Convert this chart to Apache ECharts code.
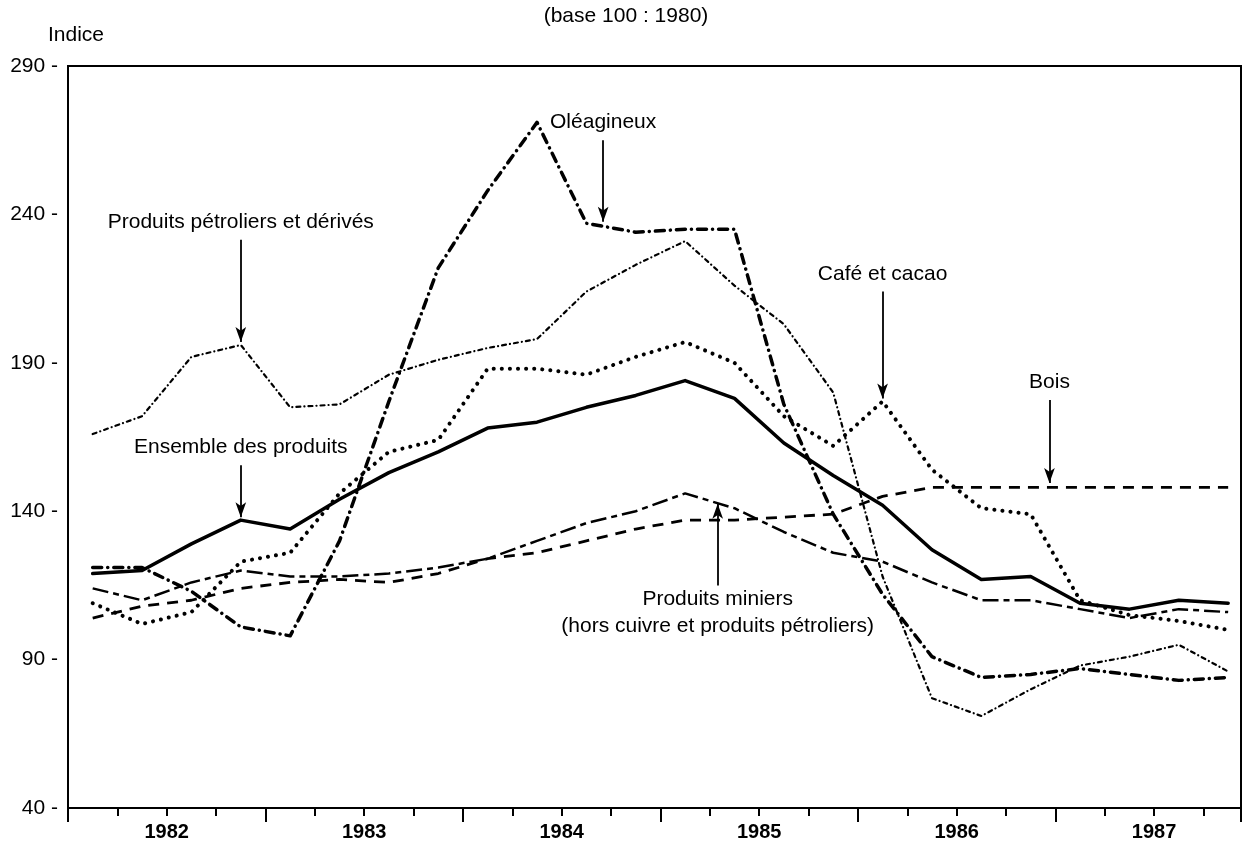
<!DOCTYPE html>
<html>
<head>
<meta charset="utf-8">
<title>Indices des prix des produits (base 100 : 1980)</title>
<script src="https://cdn.jsdelivr.net/npm/echarts@6/dist/echarts.min.js"></script>
<style>
    html, body { margin: 0; padding: 0; background: #fff; }
    #main { width: 1252px; height: 849px; }
</style>
</head>
<body>
<div id="main"></div>
<script>
// trimestres (milieu de trimestre, en annees decimales)
const trimestres = [1982.125, 1982.375, 1982.625, 1982.875, 1983.125, 1983.375, 1983.625, 1983.875,
    1984.125, 1984.375, 1984.625, 1984.875, 1985.125, 1985.375, 1985.625, 1985.875,
    1986.125, 1986.375, 1986.625, 1986.875, 1987.125, 1987.375, 1987.625, 1987.875];

// indices
const ensemble   = [119, 120, 129, 137, 134, 144, 153, 160, 168, 170, 175, 179, 184, 178, 163, 152, 142, 127, 117, 118, 109, 107, 110, 109];
const petroliers = [166, 172, 192, 196, 175, 176, 186, 191, 195, 198, 214, 223, 231, 216, 203, 180, 118, 77, 71, 80, 88, 91, 95, 86];
const oleagineux = [121, 121, 113, 101, 98, 130, 177, 222, 248, 271, 237, 234, 235, 235, 176, 139, 112, 91, 84, 85, 87, 85, 83, 84];
const cafeCacao  = [109, 102, 106, 123, 126, 146, 160, 164, 188, 188, 186, 192, 197, 190, 172, 162, 177, 154, 141, 139, 110, 105, 103, 100];
const bois       = [104, 108, 110, 114, 116, 117, 116, 119, 124, 126, 130, 134, 137, 137, 138, 139, 145, 148, 148, 148, 148, 148, 148, 148];
const miniers    = [114, 110, 116, 120, 118, 118, 119, 121, 124, 130, 136, 140, 146, 141, 133, 126, 123, 116, 110, 110, 107, 104, 107, 106];

// graduations
const yTicks = [40, 90, 140, 190, 240, 290];
const annees = [1982, 1983, 1984, 1985, 1986, 1987];

const police = "'Liberation Sans', Arial, sans-serif";

function points(valeurs) {
    return trimestres.map(function (t, i) { return [t, valeurs[i]]; });
}

// fleche + texte d'annotation (coordonnees en unites du graphique)
function fleche(texte, x, yDebut, yFin, distance) {
    return {
        silent: true,
        animation: false,
        symbol: ['none', 'arrow'],
        symbolSize: [8, 15],
        lineStyle: { color: '#000', width: 1.8, type: 'solid' },
        label: {
            show: true,
            position: 'start',
            distance: distance === undefined ? 4 : distance,
            formatter: texte,
            color: '#000',
            fontSize: 21,
            lineHeight: 27,
            fontFamily: police
        },
        data: [[{ coord: [x, yDebut] }, { coord: [x, yFin] }]]
    };
}

function serie(nom, valeurs, style, markLine) {
    let s = {
        name: nom,
        type: 'line',
        data: points(valeurs),
        symbol: 'none',
        smooth: false,
        lineStyle: Object.assign({ color: '#000', cap: 'round', join: 'round' }, style)
    };
    if (markLine) s.markLine = markLine;
    return s;
}

let myChart = echarts.init(document.getElementById('main'));
let option = {
    animation: false,
    backgroundColor: '#fff',
    title: {
        text: '(base 100 : 1980)',
        left: 'center',
        top: 1,
        textStyle: { fontSize: 21, fontWeight: 'normal', color: '#000', fontFamily: police }
    },
    grid: {
        left: 68, right: 11, top: 66, bottom: 41,
        show: true, borderColor: '#000', borderWidth: 2
    },
    xAxis: [{
        type: 'value',
        min: 1982, max: 1987.94,
        interval: 0.25,
        axisLine: { lineStyle: { color: '#000', width: 2 } },
        axisTick: { length: 8, lineStyle: { color: '#000', width: 2 } },
        splitLine: { show: false },
        axisLabel: {
            margin: 14,
            color: '#000',
            fontSize: 20,
            fontWeight: 'bold',
            fontFamily: police,
            showMaxLabel: false,
            formatter: function (v) {
                let a = Math.floor(v);
                return (Math.abs(v - a - 0.5) < 1e-6 && annees.indexOf(a) >= 0) ? String(a) : '';
            }
        }
    }, {
        // grands traits aux changements d'annee
        type: 'value',
        position: 'bottom',
        min: 1982, max: 1987.94,
        interval: 1,
        axisLine: { show: false },
        axisTick: { length: 14, lineStyle: { color: '#000', width: 2 } },
        axisLabel: { show: false },
        splitLine: { show: false }
    }],
    yAxis: {
        type: 'value',
        min: yTicks[0], max: yTicks[yTicks.length - 1],
        interval: 50,
        name: 'Indice',
        nameLocation: 'end',
        nameGap: 20,
        nameTextStyle: { color: '#000', fontSize: 21, fontFamily: police, align: 'center', padding: [0, 0, 0, 16] },
        axisLine: { show: true, lineStyle: { color: '#000', width: 2 } },
        axisTick: { show: false },
        splitLine: { show: false },
        axisLabel: {
            margin: 10,
            color: '#000',
            fontSize: 21,
            fontFamily: police,
            formatter: function (v) { return v + ' -'; }
        }
    },
    series: [
        serie('Ensemble des produits', ensemble, { width: 3.5, type: 'solid' },
            fleche('Ensemble des produits', 1982.875, 155.5, 138)),
        serie('Produits pétroliers et dérivés', petroliers, { width: 2.2, type: [4, 4, 0.1, 4] },
            fleche('Produits pétroliers et dérivés', 1982.875, 231.5, 197)),
        serie('Oléagineux', oleagineux, { width: 3.5, type: [9, 6, 0.1, 6] },
            fleche('Oléagineux', 1984.71, 265, 237.5)),
        serie('Café et cacao', cafeCacao, { width: 4, type: [0.1, 8] },
            fleche('Café et cacao', 1986.125, 214, 178)),
        serie('Bois', bois, { width: 2.8, type: [11, 8], cap: 'butt' },
            fleche('Bois', 1986.97, 177.5, 149.5)),
        serie('Produits miniers', miniers, { width: 2.5, type: [16, 5, 6, 5], cap: 'butt' },
            fleche('Produits miniers\n(hors cuivre et produits pétroliers)', 1985.29, 115, 142.5, 0))
    ]
};
myChart.setOption(option);
</script>
</body>
</html>
